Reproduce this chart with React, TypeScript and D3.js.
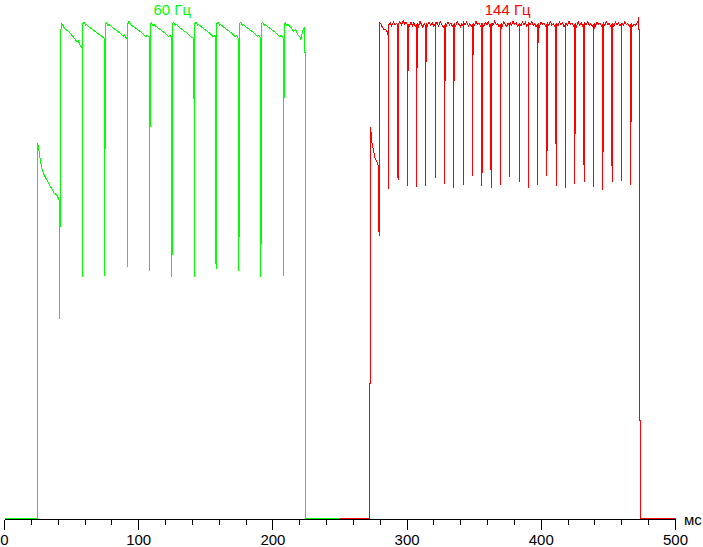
import React from "react";
import * as d3 from "d3";

type P = [number, number];

// time in ms, brightness in arbitrary units (0..100)
const green60: P[] = [
  [0, 0], [24.8, 0], [24.8, 75], [25.2, 74.4], [26.8, 71.6], [28.1, 69.6], [30.5, 68.2], [33.0, 67.0],
  [36.7, 65.2], [39.2, 64.6], [40.9, 63.6], [41.2, 40], [41.7, 92.6], [42.2, 99],
  [43.2, 98.8], [44.7, 98.0], [46.7, 97.6], [49.1, 97.0], [51.6, 96.2], [54.1, 95.3], [55.0, 95.6], [56.6, 94.4], [57.8, 94.1],
  [57.8, 54.0], [58.1, 48.3], [58.5, 99.0],
  [59.3, 99.2], [60.5, 98.6], [61.2, 98.8], [63.5, 98.2], [66.5, 97.6], [69.5, 97.0], [72.0, 96.6], [73.5, 96.2], [74.4, 96.0],
  [74.4, 69.0], [74.7, 48.6], [75.1, 99.0],
  [75.9, 99.2], [77.1, 98.6], [77.8, 98.8], [80.5, 98.2], [83.5, 97.6], [86.5, 97.0], [88.5, 96.4], [89.2, 96.8], [90.5, 96.2], [91.3, 96.0],
  [91.3, 93.6], [91.6, 50.3], [92.0, 99.0],
  [92.8, 99.4], [94.0, 98.8], [97.0, 98.2], [100.0, 97.6], [103.0, 97.0], [105.0, 96.4], [106.5, 96.6], [107.9, 96.2],
  [107.9, 51.3], [108.2, 49.6], [108.6, 99.0],
  [109.4, 99.2], [110.6, 98.6], [111.3, 98.8], [114.0, 98.2], [117.0, 97.6], [120.0, 97.0], [122.0, 96.4], [123.5, 96.6], [124.5, 96.2],
  [124.5, 81.3], [124.8, 48.4], [125.2, 99.0],
  [126.0, 99.2], [127.2, 98.6], [127.9, 98.8], [130.5, 98.2], [133.5, 97.6], [136.5, 97.0], [138.5, 96.4], [140.0, 96.2], [141.2, 96.0],
  [141.2, 85.6], [141.5, 48.4], [141.9, 99.0],
  [142.7, 99.2], [143.9, 98.6], [144.6, 98.8], [147.3, 98.2], [150.3, 97.6], [153.3, 97.0], [155.3, 96.4], [156.5, 96.6], [157.6, 96.0],
  [157.6, 50.9], [157.9, 49.9], [158.3, 99.0],
  [159.1, 99.2], [160.3, 98.6], [161.0, 98.8], [163.7, 98.2], [166.7, 97.6], [169.7, 97.0], [171.7, 96.4], [173.0, 96.6], [174.4, 96.0],
  [174.4, 77.3], [174.7, 49.6], [175.1, 99.0],
  [175.9, 99.2], [177.1, 98.6], [177.8, 98.8], [180.5, 98.2], [183.5, 97.6], [186.5, 97.0], [188.5, 96.4], [189.8, 96.6], [190.8, 96.0],
  [190.8, 88.4], [191.1, 48.4], [191.5, 99.0],
  [192.3, 99.2], [193.5, 98.6], [194.2, 98.8], [196.9, 98.2], [199.9, 97.6], [202.9, 97.0], [204.9, 96.4], [206.3, 96.6], [207.7, 96.0],
  [207.7, 54.4], [208.0, 48.6], [208.4, 99.0],
  [209.2, 99.2], [210.4, 98.6], [211.1, 98.8], [213.5, 98.2], [215.5, 97.4], [217.0, 97.8], [218.5, 96.8], [220.0, 96.4],
  [220.8, 95.8], [221.5, 96.6], [222.5, 97.8], [223.8, 98.2], [224.0, 90.6], [224.3, 0], [250, 0],
];

const red144: P[] = [
  [250, 0], [271.7, 0], [271.7, 27], [272.7, 27], [272.7, 78.2], [273.3, 77.0], [273.9, 75.0], [275.1, 73.6], [275.8, 72.3],
  [277.0, 71.6], [278.3, 71.0], [278.7, 66.6], [279.1, 56.6], [279.4, 99.2],
  [280.4, 99.0], [281.3, 98.4], [282.4, 97.9], [283.6, 97.8], [284.8, 97.6], [285.7, 96.8], [286.1, 96.6],
  [286.1, 65.9], [286.5, 98.8],
  [287.5, 99.1], [288.6, 98.5], [289.8, 99.4], [291.0, 98.7], [292.2, 99.0], [293.1, 98.6],
  [293.1, 68.6], [293.3, 67.8], [293.7, 99.0],
  [294.6, 99.4], [295.8, 98.7], [297.0, 99.6], [298.2, 98.9], [299.3, 99.3], [300.2, 98.7],
  [300.2, 90.4], [300.4, 66.6], [300.8, 98.9],
  [301.7, 98.5], [302.9, 99.3], [304.0, 98.6], [305.1, 99.2], [306.1, 98.4], [306.9, 98.8],
  [306.9, 95.4], [307.1, 66.3], [307.5, 99.0],
  [308.4, 98.4], [309.6, 99.4], [310.7, 98.8], [311.8, 98.2], [312.8, 99.0], [313.6, 98.6],
  [313.6, 69.5], [313.8, 66.5], [314.2, 99.1],
  [315.2, 98.6], [316.4, 99.3], [317.6, 98.7], [318.8, 99.1], [319.9, 98.5], [320.8, 98.9],
  [320.8, 87.8], [321.0, 68.1], [321.4, 98.8],
  [322.3, 99.2], [323.5, 98.5], [324.7, 99.4], [325.9, 98.8], [327.0, 98.3], [327.8, 98.7],
  [328.0, 66.9], [328.4, 99.0],
  [329.3, 98.6], [330.4, 99.3], [331.5, 98.7], [332.6, 99.1], [333.7, 98.4], [334.5, 98.8],
  [334.5, 84.3], [334.7, 66.1], [335.1, 99.0],
  [336.1, 98.5], [337.3, 99.4], [338.5, 98.9], [339.7, 98.3], [340.8, 99.0], [341.7, 98.6],
  [341.7, 72.3], [341.9, 66.7], [342.3, 99.1],
  [343.2, 98.7], [344.4, 99.3], [345.6, 98.5], [346.7, 99.0], [347.8, 98.4], [348.6, 98.8],
  [348.8, 68.5], [349.2, 99.0],
  [350.1, 98.6], [351.3, 99.4], [352.5, 98.8], [353.6, 99.1], [354.7, 98.5], [355.6, 98.9],
  [355.6, 87.0], [355.8, 66.5], [356.2, 99.0],
  [357.1, 98.4], [358.3, 99.2], [359.4, 98.7], [360.5, 99.3], [361.6, 98.5], [362.5, 98.8],
  [362.5, 70.3], [362.7, 66.1], [363.1, 99.1],
  [364.0, 98.6], [365.2, 99.4], [366.3, 98.8], [367.4, 99.0], [368.5, 98.3], [369.4, 98.7],
  [369.4, 95.1], [369.6, 66.7], [370.0, 99.0],
  [370.9, 98.5], [372.0, 99.3], [373.1, 98.9], [374.2, 98.4], [375.3, 99.1], [376.1, 98.7],
  [376.1, 89.6], [376.3, 68.3], [376.7, 99.2],
  [377.7, 98.6], [378.9, 99.4], [380.1, 98.8], [381.3, 99.1], [382.5, 98.4], [383.4, 98.8],
  [383.4, 69.5], [383.6, 67.3], [384.0, 99.0],
  [384.9, 98.5], [386.0, 99.3], [387.1, 98.7], [388.2, 99.2], [389.3, 98.4], [390.1, 98.8],
  [390.1, 93.6], [390.3, 66.1], [390.7, 99.1],
  [391.6, 98.7], [392.8, 99.4], [393.9, 98.6], [395.0, 99.0], [396.1, 98.3], [397.0, 98.7],
  [397.0, 96.5], [397.2, 66.7], [397.6, 99.0],
  [398.6, 98.4], [399.8, 99.3], [401.0, 98.8], [402.1, 99.1], [403.2, 98.5], [404.0, 98.9],
  [404.0, 76.0], [404.2, 68.5], [404.6, 99.2],
  [405.5, 98.6], [406.7, 99.4], [407.8, 98.7], [408.9, 99.0], [410.0, 98.4], [410.9, 98.8],
  [410.9, 78.8], [411.1, 66.5], [411.5, 99.0],
  [412.4, 98.5], [413.6, 99.3], [414.7, 98.8], [415.8, 99.1], [416.9, 98.4], [417.8, 98.7],
  [418.0, 66.1], [418.4, 99.1],
  [419.4, 98.6], [420.6, 99.4], [421.8, 98.8], [422.9, 99.0], [424.0, 98.5], [424.8, 98.9],
  [424.8, 79.3], [425.0, 66.9], [425.4, 99.0],
  [426.3, 98.4], [427.5, 99.3], [428.6, 98.7], [429.7, 99.2], [430.8, 98.5], [431.7, 98.8],
  [431.7, 76.4], [431.9, 67.3], [432.3, 99.1],
  [433.3, 98.7], [434.5, 99.4], [435.7, 98.6], [436.8, 99.0], [437.9, 98.4], [438.7, 98.8],
  [438.9, 66.3], [439.3, 99.0],
  [440.3, 98.5], [441.5, 99.3], [442.7, 98.8], [443.8, 99.1], [444.9, 98.4], [445.7, 98.7],
  [445.7, 82.4], [445.9, 65.7], [446.3, 99.2],
  [447.2, 98.6], [448.4, 99.4], [449.5, 98.8], [450.6, 99.0], [451.7, 98.5], [452.6, 98.8],
  [452.6, 73.4], [452.8, 67.3], [453.2, 99.0],
  [454.1, 98.4], [455.3, 99.3], [456.4, 98.7], [457.5, 99.1], [458.6, 98.5], [459.5, 98.8],
  [459.7, 67.5], [460.1, 99.1],
  [461.0, 98.6], [462.2, 99.3], [463.4, 98.8], [464.5, 99.0], [465.6, 98.4], [466.5, 98.7],
  [466.5, 95.1], [466.7, 66.7], [467.1, 99.0],
  [468.0, 98.5], [469.2, 98.9], [470.3, 98.7], [471.4, 99.2], [472.2, 99.5], [472.8, 100.2],
  [473.2, 19.6], [474.0, 19.6], [474.2, 0], [500, 0],
];

const seriesLabels = ["60 Гц", "144 Гц"];
const labelTimes = [125, 375];
const majorTicks = [0, 100, 200, 300, 400, 500];
const minorTicks = [0, 20, 40, 60, 80, 100, 120, 140, 160, 180, 200, 220, 240, 260, 280, 300, 320, 340, 360, 380, 400, 420, 440, 460, 480, 500];
const unitLabel = "мс";

const GREEN = "#00ff00";
const RED = "#ff0000";
const FONT = "'Liberation Sans', Arial, sans-serif";

export default function App() {
  const W = 703;
  const H = 547;
  const x = d3.scaleLinear().domain([0, 500]).range([4.5, 675.5]);
  const y = d3.scaleLinear().domain([0, 100]).range([518.5, 18.5]);
  const line = d3
    .line<P>()
    .x((d) => x(d[0]))
    .y((d) => y(d[1]));
  const axisY = 519.5;
  const colors = [GREEN, RED];
  return (
    <svg
      width={W}
      height={H}
      style={{ position: "absolute", left: 0, top: 0, background: "#fff" }}
    >
      <rect x={0} y={0} width={W} height={H} fill="#fff" />
      <path d={line(green60) || ""} fill="none" stroke={GREEN} strokeWidth={1} shapeRendering="crispEdges" />
      <path d={line(red144) || ""} fill="none" stroke={RED} strokeWidth={1} shapeRendering="crispEdges" />
      <line x1={x(0)} x2={x(500)} y1={axisY} y2={axisY} stroke="#000" strokeWidth={1} shapeRendering="crispEdges" />
      {minorTicks.map((t) => (
        <line key={"m" + t} x1={x(t)} x2={x(t)} y1={axisY} y2={axisY + 5} stroke="#000" strokeWidth={1} shapeRendering="crispEdges" />
      ))}
      {majorTicks.map((t) => (
        <g key={"M" + t}>
          <line x1={x(t)} x2={x(t)} y1={axisY} y2={axisY + 10} stroke="#000" strokeWidth={1} shapeRendering="crispEdges" />
          <text x={x(t)} y={545} textAnchor="middle" fontFamily={FONT} fontSize={15} fill="#000">
            {t}
          </text>
        </g>
      ))}
      <text x={684} y={525} fontFamily={FONT} fontSize={15} fill="#000">
        {unitLabel}
      </text>
      {seriesLabels.map((s, i) => (
        <text key={s} x={x(labelTimes[i])} y={14.5} textAnchor="middle" fontFamily={FONT} fontSize={15} fill={colors[i]}>
          {s}
        </text>
      ))}
    </svg>
  );
}
